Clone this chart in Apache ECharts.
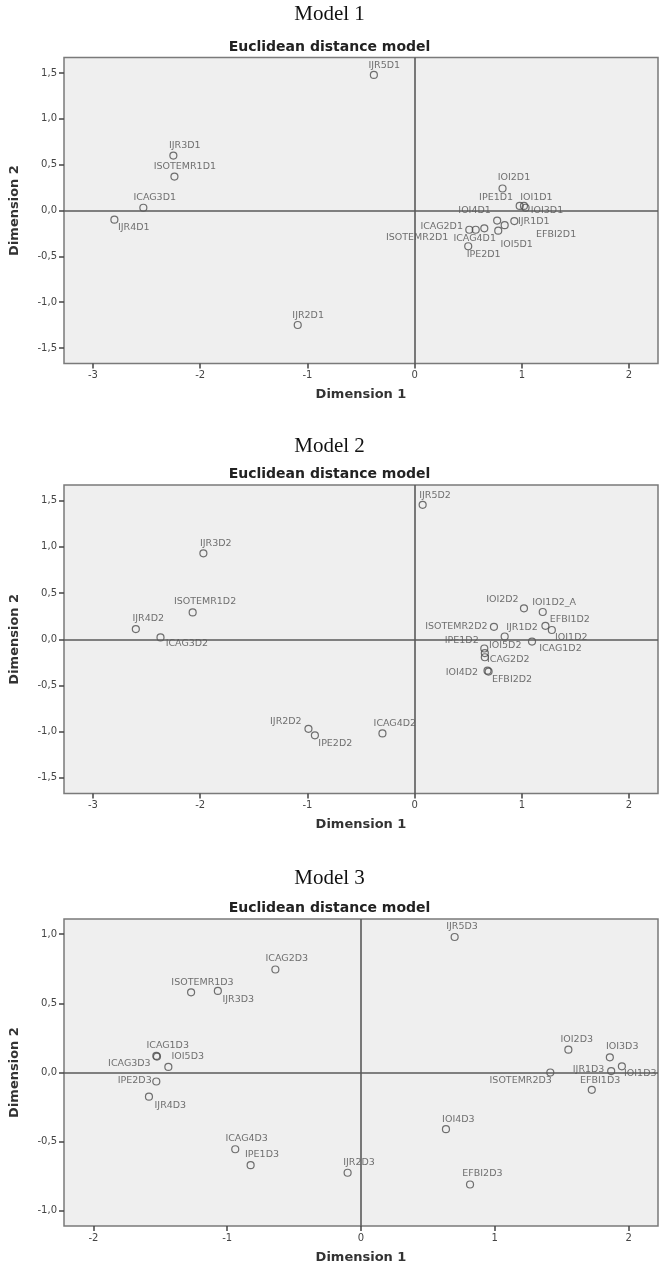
<!DOCTYPE html>
<html>
<head>
<meta charset="utf-8">
<script src="https://cdn.jsdelivr.net/npm/echarts@6/dist/echarts.min.js"></script>
<style>
html,body{margin:0;padding:0;background:#fff;}
#chart{width:659px;height:1265px;}
</style>
</head>
<body>
<div id="chart"></div>
<script>
// ---- Model 1 ----
const model1Names = ['IJR5D1','IJR3D1','ISOTEMR1D1','ICAG3D1','IJR4D1','IJR2D1','IOI2D1','IPE1D1','IOI1D1','IOI3D1','IOI4D1','EFBI2D1','IJR1D1','IOI5D1','ICAG2D1','ISOTEMR2D1','ICAG4D1','IPE2D1'];
const model1X = [-0.38,-2.25,-2.24,-2.53,-2.80,-1.09,0.82,0.98,1.02,1.035,0.77,0.84,0.93,0.78,0.51,0.57,0.65,0.50];
const model1Y = [1.48,0.60,0.37,0.03,-0.10,-1.25,0.24,0.05,0.05,0.03,-0.11,-0.16,-0.115,-0.22,-0.21,-0.21,-0.195,-0.39];

// ---- Model 2 ----
const model2Names = ['IJR5D2','IJR3D2','ISOTEMR1D2','IJR4D2','ICAG3D2','IJR2D2','IPE2D2','ICAG4D2','IOI2D2','IOI1D2_A','EFBI1D2','ISOTEMR2D2','IJR1D2','IOI1D2','ICAG1D2','IPE1D2','IOI5D2','ICAG2D2','IOI4D2','EFBI2D2'];
const model2X = [0.075,-1.97,-2.07,-2.60,-2.37,-0.99,-0.93,-0.30,1.02,1.195,1.22,0.74,0.84,1.28,1.095,0.65,0.655,0.655,0.68,0.69];
const model2Y = [1.455,0.93,0.29,0.11,0.02,-0.97,-1.04,-1.02,0.335,0.295,0.145,0.135,0.03,0.10,-0.025,-0.10,-0.15,-0.195,-0.34,-0.35];

// ---- Model 3 ----
const model3Names = ['IJR5D3','ICAG2D3','ISOTEMR1D3','IJR3D3','ICAG1D3','ICAG3D3','IOI5D3','IPE2D3','IJR4D3','ICAG4D3','IPE1D3','IJR2D3','IOI4D3','EFBI2D3','IOI2D3','IOI3D3','IOI1D3','IJR1D3','ISOTEMR2D3','EFBI1D3'];
const model3X = [0.70,-0.64,-1.27,-1.07,-1.53,-1.525,-1.44,-1.53,-1.585,-0.94,-0.825,-0.10,0.635,0.815,1.55,1.86,1.95,1.87,1.415,1.725];
const model3Y = [0.98,0.745,0.58,0.59,0.12,0.115,0.04,-0.065,-0.175,-0.555,-0.67,-0.725,-0.41,-0.81,0.165,0.11,0.045,0.01,0.0,-0.125];

// ---- Axis tick labels ----
const xTicksA = [-3,-2,-1,0,1,2];
const yTicksA = [-1.5,-1.0,-0.5,0.0,0.5,1.0,1.5];
const xTicksB = [-2,-1,0,1,2];
const yTicksB = [-1.0,-0.5,0.0,0.5,1.0];
const modelTitles = ['Model 1','Model 2','Model 3'];
const plotTitle = 'Euclidean distance model';
const xName = 'Dimension 1';
const yName = 'Dimension 2';

// ---- Label placement relative to the point (style only) ----
const labelOff1 = [[11,-9],[12,-9],[11,-9],[12,-10],[20,8],[11,-9],[12,-10],[-23,-8],[13,-8],[22,3],[-22,-9],[52,10],[20,1],[19,14],[-27,-3],[-58,8],[-9,11],[16,9]];
const labelOff2 = [[13,-9],[13,-9],[13,-10],[13,-10],[27,7],[-22,-7],[21,9],[13,-9],[-21,-8],[12,-9],[25,-6],[-37,0],[18,-8],[20,8],[29,8],[-22,-7],[21,-7],[24,3],[-25,2],[24,9]];
const labelOff3 = [[8,-10],[12,-10],[12,-9],[21,9],[12,-10],[-27,8],[20,-10],[-21,0],[22,9],[12,-10],[12,-10],[12,-10],[13,-9],[13,-10],[9,-10],[13,-10],[19,8],[-22,-1],[-29,9],[9,-9]];

const FONT = 'DejaVu Sans';
const SYM = 7;
function fmtY(v){ return v.toFixed(1).replace('.', ','); }
function fmtX(v){ return String(v); }

const panels = [
  {names: model1Names, xs: model1X, ys: model1Y, offs: labelOff1, xr: [-3.27, 2.27], yr: [-1.67, 1.67], xt: xTicksA, yt: yTicksA,
   grid: {left: 62, top: 57.5, width: 596, height: 306}, mt: 3.5, pt: 40},
  {names: model2Names, xs: model2X, ys: model2Y, offs: labelOff2, xr: [-3.27, 2.27], yr: [-1.67, 1.67], xt: xTicksA, yt: yTicksA,
   grid: {left: 61, top: 485, width: 597, height: 308.5}, mt: 435.5, pt: 467},
  {names: model3Names, xs: model3X, ys: model3Y, offs: labelOff3, xr: [-2.22, 2.22], yr: [-1.11, 1.11], xt: xTicksB, yt: yTicksB,
   grid: {left: 60, top: 919, width: 598, height: 307}, mt: 867.5, pt: 901}
];

const option = {
  animation: false,
  backgroundColor: '#ffffff',
  title: [],
  grid: [],
  xAxis: [],
  yAxis: [],
  series: []
};

panels.forEach((p, i) => {
  option.title.push({
    text: modelTitles[i], left: 'center', top: p.mt, padding: 0,
    textStyle: {fontFamily: 'Liberation Serif', fontSize: 21, fontWeight: 'normal', color: '#111'}
  });
  option.title.push({
    text: plotTitle, left: 'center', top: p.pt, padding: 0,
    textStyle: {fontFamily: FONT, fontSize: 14, fontWeight: 'bold', color: '#222'}
  });
  option.grid.push(Object.assign({
    show: true, backgroundColor: '#efefef', borderColor: '#7a7a7a', borderWidth: 1.5, containLabel: false
  }, p.grid));
  option.xAxis.push({
    type: 'value', gridIndex: i, min: p.xr[0], max: p.xr[1],
    name: xName, nameLocation: 'middle', nameGap: 25,
    nameTextStyle: {fontFamily: FONT, fontSize: 13, fontWeight: 'bold', color: '#333'},
    axisLine: {show: false, onZero: false},
    splitLine: {show: false},
    axisTick: {show: true, length: 5, lineStyle: {color: '#444', width: 1.5}, customValues: p.xt},
    axisLabel: {fontFamily: FONT, fontSize: 10, color: '#444', margin: 7, formatter: fmtX, customValues: p.xt}
  });
  option.yAxis.push({
    type: 'value', gridIndex: i, min: p.yr[0], max: p.yr[1],
    name: yName, nameLocation: 'middle', nameGap: 43,
    nameTextStyle: {fontFamily: FONT, fontSize: 13, fontWeight: 'bold', color: '#333'},
    axisLine: {show: false, onZero: false},
    splitLine: {show: false},
    axisTick: {show: true, length: 5, lineStyle: {color: '#444', width: 1.5}, customValues: p.yt},
    axisLabel: {fontFamily: FONT, fontSize: 10, color: '#444', margin: 7, formatter: fmtY, customValues: p.yt}
  });
  option.series.push({
    type: 'scatter', xAxisIndex: i, yAxisIndex: i,
    symbol: 'circle', symbolSize: SYM,
    itemStyle: {color: 'rgba(0,0,0,0)', borderColor: '#4d4d4d', borderWidth: 1.2},
    label: {show: true, formatter: '{b}', fontFamily: FONT, fontSize: 9.5, color: '#4f4f4f',
            align: 'center', verticalAlign: 'middle'},
    labelLayout: {hideOverlap: false},
    data: p.names.map((n, k) => ({
      name: n, value: [p.xs[k], p.ys[k]],
      label: {position: [p.offs[k][0] + SYM / 2, p.offs[k][1] + SYM / 2]}
    })),
    markLine: {
      silent: true, symbol: ['none', 'none'], label: {show: false},
      lineStyle: {color: '#5a5a5a', width: 1.6, type: 'solid'},
      data: [{xAxis: 0}, {yAxis: 0}]
    },
    z: 3
  });
});

const chart = echarts.init(document.getElementById('chart'), null, {renderer: 'canvas'});
chart.setOption(option);
</script>
</body>
</html>
